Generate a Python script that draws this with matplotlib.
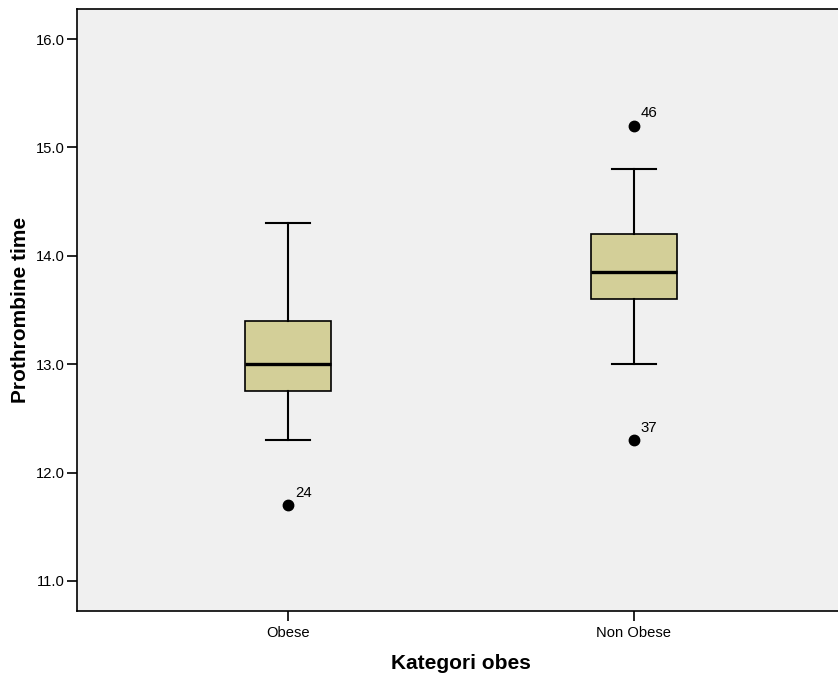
import matplotlib.pyplot as plt

plt.rcParams['font.family'] = ['Liberation Sans', 'DejaVu Sans']

categories = ['Obese', 'Non Obese']
whisker_low = [12.3, 13.0]
q1 = [12.75, 13.6]
median = [13.0, 13.85]
q3 = [13.4, 14.2]
whisker_high = [14.3, 14.8]
outliers = [[11.7], [15.2, 12.3]]
outlier_ids = [['24'], ['46', '37']]

stats = []
for i, name in enumerate(categories):
    stats.append({
        'label': name,
        'whislo': whisker_low[i],
        'q1': q1[i],
        'med': median[i],
        'q3': q3[i],
        'whishi': whisker_high[i],
        'fliers': outliers[i],
    })

fig = plt.figure(figsize=(8.38, 6.81), dpi=100)
# axes runs a little past the right edge, like the original export
ax = fig.add_axes([77 / 838, 1 - 611 / 681, 768 / 838, 602 / 681])
ax.set_facecolor('#f0f0f0')

ax.bxp(stats, positions=[1, 2], widths=0.25, capwidths=0.125, patch_artist=True,
       boxprops=dict(facecolor='#d3cf98', edgecolor='black', linewidth=1.2),
       medianprops=dict(color='black', linewidth=2.4),
       whiskerprops=dict(color='black', linewidth=1.5),
       capprops=dict(color='black', linewidth=1.5),
       flierprops=dict(marker='o', markerfacecolor='black', markeredgecolor='black',
                       markersize=7.5, linestyle='none'))

for i in range(len(categories)):
    for val, lab in zip(outliers[i], outlier_ids[i]):
        ax.annotate(lab, (i + 1, val), xytext=(5, 6), textcoords='offset points',
                    fontsize=10.8)

ax.set_xlim(0.39, 2.61)
ax.set_ylim(10.723, 16.277)
ax.set_yticks([11, 12, 13, 14, 15, 16])
ax.set_yticklabels([f'{v:.1f}' for v in [11, 12, 13, 14, 15, 16]])
ax.set_xticks([1, 2])
ax.set_xticklabels(categories)
ax.tick_params(axis='both', direction='out', length=7, width=1.2, labelsize=10.6, pad=2)
ax.tick_params(axis='x', pad=4)

for side in ['left', 'bottom', 'top', 'right']:
    ax.spines[side].set_linewidth(1.2)

ax.set_xlabel('Kategori obes', fontsize=15, fontweight='bold', labelpad=10)
ax.set_ylabel('Prothrombine time', fontsize=15, fontweight='bold', labelpad=4)

fig.savefig('out.png', dpi=100)
